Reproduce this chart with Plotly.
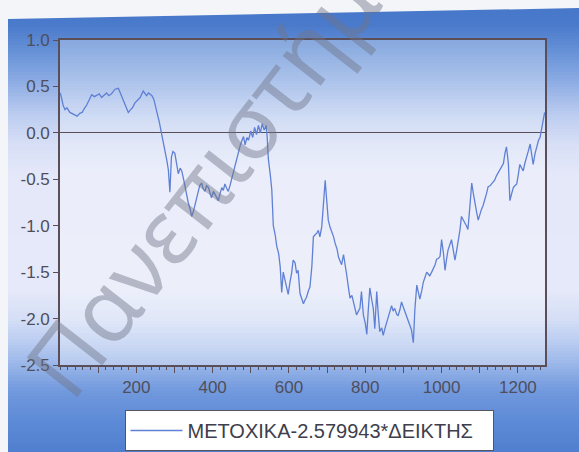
import plotly.graph_objects as go

# Observation number and value of the series
obs = [1, 8, 13, 18, 26, 35, 45, 52, 58, 65, 70, 77, 83, 90, 96, 103, 109, 116, 122, 128,
       135, 144, 153, 160, 165, 170, 175, 179, 185, 190, 196, 203, 210, 218, 223, 227, 232,
       236, 241, 246, 250, 253, 257, 260, 263, 266, 270, 275, 280, 284, 288, 292, 296, 301,
       306, 310, 315, 319, 324, 328, 332, 336, 341, 345, 350, 354, 358, 362, 366, 371, 375,
       380, 384, 389, 393, 397, 402, 406, 411, 415, 419, 424, 428, 432, 437, 441, 446, 450,
       455, 459, 463, 467, 472, 476, 481, 485, 490, 494, 500, 505, 510, 515, 520, 525, 530,
       535, 540, 543, 546, 551, 555, 559, 564, 568, 573, 577, 581, 585, 590, 594, 598, 603,
       607, 611, 616, 620, 624, 629, 634, 638, 642, 646, 651, 655, 660, 664, 668, 673, 677,
       681, 686, 690, 695, 699, 703, 708, 712, 717, 721, 726, 730, 734, 738, 743, 747, 751,
       756, 760, 765, 769, 773, 777, 782, 786, 790, 795, 800, 804, 808, 812, 817, 821, 825,
       830, 834, 838, 843, 847, 852, 856, 860, 865, 869, 873, 877, 882, 886, 891, 895, 900,
       904, 909, 913, 917, 921, 926, 930, 935, 939, 943, 948, 952, 957, 961, 965, 969, 974,
       978, 983, 987, 992, 996, 1000, 1005, 1009, 1013, 1017, 1022, 1026, 1031, 1035, 1039,
       1043, 1048, 1052, 1057, 1061, 1065, 1069, 1074, 1079, 1083, 1087, 1092, 1096, 1100,
       1104, 1109, 1113, 1118, 1122, 1127, 1131, 1135, 1139, 1144, 1148, 1153, 1157, 1162,
       1166, 1170, 1175, 1179, 1184, 1188, 1192, 1197, 1201, 1205, 1210, 1214, 1218, 1223,
       1227, 1232, 1236, 1240, 1245, 1250, 1254, 1258, 1262, 1266, 1270]

spread = [0.43, 0.30, 0.25, 0.27, 0.22, 0.20, 0.18, 0.21, 0.22, 0.27, 0.30, 0.36, 0.41, 0.39,
          0.40, 0.42, 0.38, 0.41, 0.43, 0.40, 0.42, 0.47, 0.48, 0.41, 0.36, 0.30, 0.26, 0.22,
          0.25, 0.27, 0.32, 0.35, 0.38, 0.45, 0.42, 0.40, 0.43, 0.42, 0.40, 0.36, 0.30, 0.23,
          0.17, 0.12, 0.06, 0.00, -0.10, -0.19, -0.30, -0.40, -0.64, -0.26, -0.20, -0.22,
          -0.33, -0.44, -0.38, -0.41, -0.50, -0.59, -0.66, -0.75, -0.82, -0.90, -0.84, -0.77,
          -0.70, -0.61, -0.57, -0.54, -0.60, -0.63, -0.57, -0.59, -0.66, -0.70, -0.63, -0.66,
          -0.70, -0.73, -0.66, -0.59, -0.62, -0.55, -0.60, -0.63, -0.56, -0.49, -0.42, -0.35,
          -0.27, -0.20, -0.14, -0.09, -0.04, -0.13, -0.05, -0.08, 0.02, -0.05, 0.06, -0.02,
          0.08, 0.00, 0.10, 0.03, 0.08, -0.05, -0.28, -0.45, -0.61, -1.00, -1.10, -1.22,
          -1.30, -1.44, -1.72, -1.50, -1.58, -1.65, -1.74, -1.60, -1.51, -1.37, -1.40, -1.51,
          -1.48, -1.73, -1.78, -1.84, -1.80, -1.77, -1.70, -1.66, -1.44, -1.12, -1.10, -1.08,
          -1.05, -1.12, -1.01, -0.73, -0.51, -0.73, -0.94, -1.02, -1.06, -1.12, -1.19, -1.25,
          -1.34, -1.38, -1.42, -1.31, -1.40, -1.52, -1.67, -1.78, -1.75, -1.81, -1.88, -1.96,
          -1.92, -1.89, -1.71, -1.96, -2.05, -2.17, -1.90, -1.67, -1.80, -1.89, -2.11, -1.71,
          -1.95, -2.14, -2.10, -2.18, -2.10, -2.04, -1.98, -1.92, -1.86, -1.92, -1.89, -1.95,
          -1.97, -1.90, -1.82, -1.88, -1.93, -1.98, -2.04, -2.08, -2.12, -2.26, -1.90, -1.64,
          -1.70, -1.79, -1.70, -1.61, -1.55, -1.50, -1.52, -1.54, -1.50, -1.47, -1.42, -1.36,
          -1.35, -1.33, -1.15, -1.30, -1.48, -1.36, -1.26, -1.20, -1.15, -1.27, -1.37, -1.28,
          -1.19, -1.05, -0.90, -0.95, -0.97, -1.00, -1.04, -0.80, -0.54, -0.65, -0.76, -0.86,
          -0.94, -0.88, -0.83, -0.78, -0.73, -0.65, -0.58, -0.57, -0.55, -0.53, -0.51, -0.46,
          -0.43, -0.40, -0.36, -0.33, -0.22, -0.15, -0.33, -0.73, -0.65, -0.59, -0.57, -0.55,
          -0.45, -0.34, -0.38, -0.41, -0.33, -0.27, -0.20, -0.12, -0.25, -0.34, -0.22, -0.12,
          -0.08, -0.05, 0.05, 0.16, 0.22]

series_name = "ΜΕΤΟΧΙΚΑ-2.579943*ΔΕΙΚΤΗΣ"
x_tick_vals = [100, 200, 300, 400, 500, 600, 700, 800, 900, 1000, 1100, 1200]
x_tick_text = ["", "200", "", "400", "", "600", "", "800", "", "1000", "", "1200"]
y_tick_vals = [1.0, 0.5, 0.0, -0.5, -1.0, -1.5, -2.0, -2.5]

W, H = 579, 452
ML, MR, MT, MB = 60, 34, 40, 87
PW, PH = W - ML - MR, H - MT - MB


def px_to_paper(px, py):
    return (px - ML) / PW, 1 - (py - MT) / PH


# vertical colour ramp of the backdrop panel (pixel row -> rgb)
ramp = [(0, (70, 118, 200)), (25, (74, 122, 203)), (50, (100, 144, 214)),
        (85, (145, 175, 229)), (115, (188, 205, 240)), (145, (216, 223, 246)),
        (175, (228, 232, 249)), (290, (229, 233, 249)), (320, (212, 222, 246)),
        (345, (182, 202, 240)), (368, (148, 178, 231)), (392, (112, 152, 221)),
        (420, (94, 139, 214)), (452, (80, 127, 207))]


def ramp_colour(py):
    for (y0, c0), (y1, c1) in zip(ramp[:-1], ramp[1:]):
        if y0 <= py <= y1:
            t = (py - y0) / (y1 - y0)
            return "rgb(%d,%d,%d)" % tuple(round(a + (b - a) * t) for a, b in zip(c0, c1))
    return "rgb(%d,%d,%d)" % ramp[-1][1]


shapes = []
step = 3
for py in range(0, H, step):
    x0, y0 = px_to_paper(8, py)
    x1, y1 = px_to_paper(W + 2, py + step + 1)
    shapes.append(dict(type="rect", xref="paper", yref="paper", x0=x0, x1=x1, y0=y1, y1=y0,
                       fillcolor=ramp_colour(py + step / 2), line=dict(width=0), layer="below"))

# page margin above the slanted top edge of the panel
a = px_to_paper(0, -2)
b = px_to_paper(W + 2, -2)
c = px_to_paper(W + 2, 8)
d = px_to_paper(8, 19)
e = px_to_paper(0, 19)
shapes.append(dict(type="path", xref="paper", yref="paper",
                   path="M %f,%f L %f,%f L %f,%f L %f,%f L %f,%f Z" % (a + b + c + d + e),
                   fillcolor="rgb(244,245,248)", line=dict(width=0), layer="below"))

# lighter inner plotting area
shapes.append(dict(type="rect", xref="paper", yref="paper", x0=0, x1=1, y0=0, y1=1,
                   fillcolor="rgba(255,255,255,0.28)", line=dict(width=0), layer="below"))

fig = go.Figure()
fig.add_trace(go.Scatter(x=obs, y=spread, mode="lines", name=series_name,
                         line=dict(color="#5f80d4", width=1.3), showlegend=True))

frame = "#5a4e58"
tick_font = dict(family="Liberation Sans, Arial, sans-serif", size=17, color="#4e4e5c")

wm_x, wm_y = px_to_paper(226, 150)

fig.update_layout(
    width=W, height=H,
    margin=dict(l=ML, r=MR, t=MT, b=MB, pad=0),
    paper_bgcolor="rgb(244,245,248)",
    plot_bgcolor="rgba(0,0,0,0)",
    shapes=shapes,
    showlegend=True,
    legend=dict(orientation="h", xref="container", yref="container",
                x=309 / W, xanchor="center", y=1 / H, yanchor="bottom",
                bgcolor="white", bordercolor="#555560", borderwidth=1,
                font=dict(family="Liberation Sans, Arial, sans-serif", size=20, color="#3e3e4c"),
                itemwidth=52, entrywidth=300),
    xaxis=dict(range=[0, 1271], tickmode="array", tickvals=x_tick_vals, ticktext=x_tick_text,
               ticks="outside", ticklen=6, tickwidth=1, tickcolor=frame,
               minor=dict(dtick=20, tick0=0, ticks="outside", ticklen=3, tickcolor=frame),
               showgrid=False, zeroline=False, showline=True, linecolor=frame, linewidth=1.6,
               mirror=True, tickfont=tick_font, fixedrange=True),
    yaxis=dict(range=[-2.5, 1.0], tickmode="array", tickvals=y_tick_vals,
               ticktext=["%.1f" % v for v in y_tick_vals],
               ticks="outside", ticklen=5, tickwidth=1, tickcolor=frame,
               showgrid=False, zeroline=True, zerolinecolor=frame, zerolinewidth=1.4,
               showline=True, linecolor=frame, linewidth=1.6, mirror=True,
               tickfont=tick_font, fixedrange=True),
    annotations=[dict(text="Πανεπιστήμιο", xref="paper", yref="paper",
                      x=wm_x, y=wm_y, xanchor="center", yanchor="middle",
                      showarrow=False, textangle=-52,
                      font=dict(family="Noto Sans, sans-serif", size=90,
                                color="rgba(110,115,135,0.45)"))],
)

fig.write_html("out.html")
